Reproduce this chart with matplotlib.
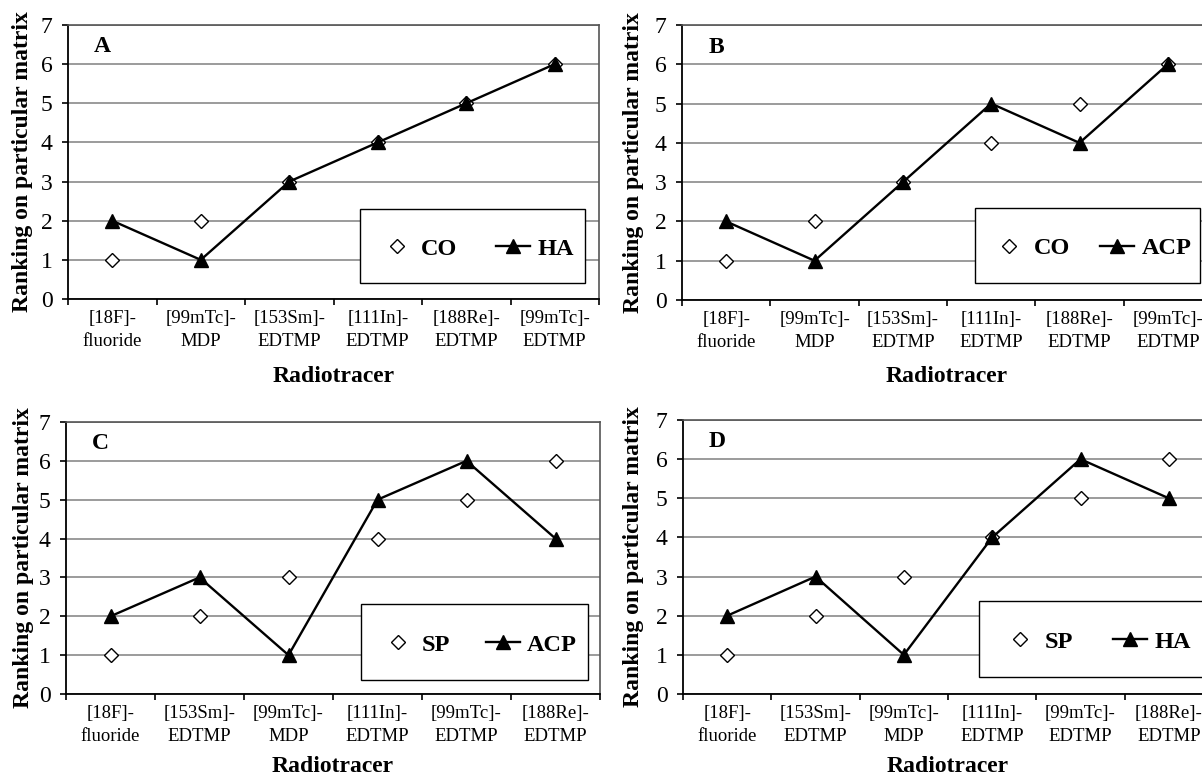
import matplotlib
matplotlib.use("Agg")
from matplotlib import pyplot as plt
from matplotlib.patches import Rectangle

plt.rcParams['font.family'] = ['Liberation Serif', 'DejaVu Serif']

W, H = 1202, 777

tracers_ab = ["[18F]-\nfluoride", "[99mTc]-\nMDP", "[153Sm]-\nEDTMP",
              "[111In]-\nEDTMP", "[188Re]-\nEDTMP", "[99mTc]-\nEDTMP"]
tracers_cd = ["[18F]-\nfluoride", "[153Sm]-\nEDTMP", "[99mTc]-\nMDP",
              "[111In]-\nEDTMP", "[99mTc]-\nEDTMP", "[188Re]-\nEDTMP"]

co_a = [1, 2, 3, 4, 5, 6]
ha_a = [2, 1, 3, 4, 5, 6]
co_b = [1, 2, 3, 4, 5, 6]
acp_b = [2, 1, 3, 5, 4, 6]
sp_c = [1, 2, 3, 4, 5, 6]
acp_c = [2, 3, 1, 5, 6, 4]
sp_d = [1, 2, 3, 4, 5, 6]
ha_d = [2, 3, 1, 4, 6, 5]

# letter, tracers, open series, filled series,
# axes box px (l, r, t, b), legend box px (l, r, t, b), column spacing, ylabel x px, xlabel y px
panels = [
    ("A", tracers_ab, ("CO", co_a), ("HA", ha_a), (68, 599, 25, 299),
     (360, 585, 209, 283), 1.6, 23, 377),
    ("B", tracers_ab, ("CO", co_b), ("ACP", acp_b), (682, 1212, 25, 300),
     (975, 1200, 208, 283), 1.25, 633, 377),
    ("C", tracers_cd, ("SP", sp_c), ("ACP", acp_c), (66, 600, 422, 694),
     (361, 588, 604, 680), 1.45, 24, 767),
    ("D", tracers_cd, ("SP", sp_d), ("HA", ha_d), (683, 1213, 420, 694),
     (979, 1206, 601, 677), 1.65, 633, 767),
]

fig = plt.figure(figsize=(W / 100, H / 100), dpi=100)

for letter, tracers, (n1, v1), (n2, v2), (l, r, t, b), (ll, lr, lt, lb), cs, ylx, xly in panels:
    ax = fig.add_axes([l / W, 1 - b / H, (r - l) / W, (b - t) / H])
    aw, ah = r - l, b - t
    xs = [i + 0.5 for i in range(len(tracers))]

    h1, = ax.plot(xs, v1, linestyle='none', marker='D', ms=7.5, mfc='white',
                  mec='black', mew=1.0, zorder=3, label=n1)
    h2, = ax.plot(xs, v2, color='black', lw=1.7, marker='^', ms=10.5,
                  zorder=4, label=n2)

    ax.set_xlim(0, len(tracers))
    ax.set_ylim(0, 7)
    ax.set_yticks(range(8))
    ax.set_xticks(range(len(tracers) + 1))
    ax.set_xticklabels([])
    ax.set_xticks(xs, minor=True)
    ax.set_xticklabels(tracers, minor=True, fontsize=13.5, linespacing=1.45)
    ax.tick_params(axis='x', which='minor', length=0, pad=8)
    ax.tick_params(axis='x', which='major', direction='out', length=4, width=1.2)
    ax.tick_params(axis='y', direction='out', length=4, width=1.2, pad=7, labelsize=17)

    ax.yaxis.grid(True, color='#8a8a8a', lw=1.2)
    ax.set_axisbelow(True)
    for s in ('left', 'bottom'):
        ax.spines[s].set_color('black')
        ax.spines[s].set_linewidth(1.3)
    for s in ('top', 'right'):
        ax.spines[s].set_color('#555555')
        ax.spines[s].set_linewidth(1.2)

    ax.text(0.065, 0.92, letter, transform=ax.transAxes, ha='center', va='center',
            fontsize=17, fontweight='bold')
    ax.text((ylx - l) / aw, 0.5, "Ranking on particular matrix", transform=ax.transAxes,
            rotation=90, ha='center', va='center', fontsize=17, fontweight='bold')
    ax.text(0.5, (b - xly) / ah, "Radiotracer", transform=ax.transAxes,
            ha='center', va='center', fontsize=17, fontweight='bold')

    # legend box like the spreadsheet one: fixed frame, entries centred inside
    bx0, bx1 = (ll - l) / aw, (lr - l) / aw
    by0, by1 = (b - lb) / ah, (b - lt) / ah
    ax.add_patch(Rectangle((bx0, by0), bx1 - bx0, by1 - by0, transform=ax.transAxes,
                           facecolor='white', edgecolor='black', lw=1.0,
                           zorder=4.8, clip_on=False))
    leg = ax.legend(handles=[h1, h2], ncol=2, loc='center',
                    bbox_to_anchor=((bx0 + bx1) / 2 + 0.008, (by0 + by1) / 2 - 0.01),
                    borderaxespad=0, borderpad=0, handlelength=1.4, handletextpad=0.3,
                    columnspacing=cs, frameon=False,
                    prop={'size': 17.5, 'weight': 'bold'})
    leg.set_zorder(5)

fig.savefig("out.png", dpi=100)
